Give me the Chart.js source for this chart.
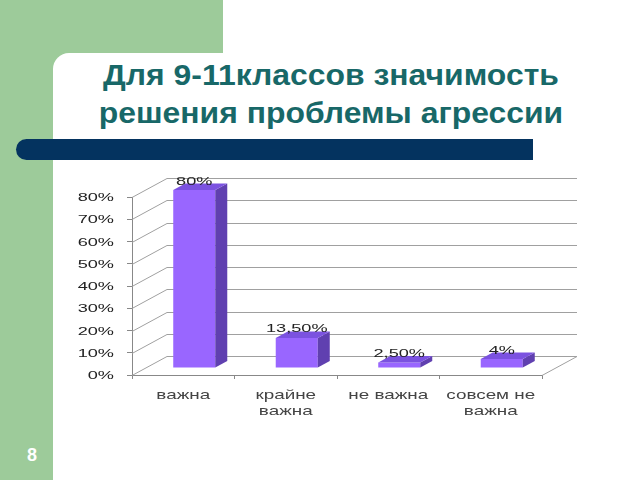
<!DOCTYPE html>
<html><head><meta charset="utf-8">
<script src="https://cdn.jsdelivr.net/npm/chart.js@4/dist/chart.umd.min.js"></script>
<style>
html,body{margin:0;padding:0;width:640px;height:480px;overflow:hidden;background:#fff;}
#g{position:absolute;left:0;top:0;width:223px;height:480px;background:#9dcb9a;}
#w{position:absolute;left:53px;top:53px;width:587px;height:427px;background:#fff;border-top-left-radius:16px;}
#nav{position:absolute;left:16px;top:139px;width:517px;height:21px;background:#04335f;border-radius:11px 0 0 11px;}
#title{position:absolute;left:31px;top:56px;width:600px;text-align:center;font:bold 29px/38px "Liberation Sans",Arial,sans-serif;color:#186868;transform:scaleX(1.1);transform-origin:300px 0;}
#num{position:absolute;left:17px;top:444px;width:30px;text-align:center;font:bold 18px/22px "Liberation Sans",Arial,sans-serif;color:#fff;}
#box{position:absolute;left:0;top:0;width:640px;height:480px;}
</style></head><body>
<div id="g"></div><div id="w"></div><div id="nav"></div>
<div id="title">Для 9-11классов значимость<br>решения проблемы агрессии</div>
<div id="num">8</div>
<div id="box"><canvas id="c" width="640" height="480"></canvas></div>
<script>
const categories = [['важна'], ['крайне', 'важна'], ['не важна'], ['совсем не', 'важна']];
const values = [80, 13.5, 2.5, 4];
const yMin = 0, yMax = 80, yStep = 10;
const fmtPct = v => (Number.isInteger(v) ? String(v) : v.toFixed(2).replace('.', ',')) + '%';

const FRONT = '#9966ff', SIDE = '#6040b0', TOP = '#7b52e0';
const DX = 35, DY = -19;      // wall depth
const BX = 11, BY = -7;       // bar plane shift
const PX = 12, PY = -6.5;     // bar depth
const FONT = '"Liberation Sans", Arial, sans-serif';

function sText(ctx, txt, x, y, sx, align) {
  ctx.save(); ctx.translate(x, y); ctx.scale(sx, 1);
  ctx.textAlign = align; ctx.fillText(txt, 0, 0); ctx.restore();
}

const threeD = {
  id: 'threeD',
  beforeDatasetsDraw(chart) {
    const { ctx, chartArea: a, scales: { y } } = chart;
    ctx.save();
    ctx.strokeStyle = '#a0a0a0'; ctx.lineWidth = 1;
    ctx.beginPath();
    y.ticks.forEach(t => {
      const py = Math.round(y.getPixelForValue(t.value)) + 0.5;
      ctx.moveTo(a.left, py); ctx.lineTo(a.left + DX, py + DY); ctx.lineTo(a.right + DX, py + DY);
    });
    const pb = Math.round(a.bottom) + 0.5;
    ctx.moveTo(a.right, pb); ctx.lineTo(a.right + DX, pb + DY);
    ctx.stroke();
    ctx.restore();
    ctx.save(); ctx.translate(BX, BY);
  },
  afterDatasetsDraw(chart) {
    const ctx = chart.ctx;
    chart.getDatasetMeta(0).data.forEach(b => {
      const { x, y, base, width } = b.getProps(['x', 'y', 'base', 'width'], true);
      const l = x - width / 2, r = x + width / 2;
      ctx.fillStyle = SIDE; ctx.beginPath();
      ctx.moveTo(r, y); ctx.lineTo(r + PX, y + PY); ctx.lineTo(r + PX, base + PY); ctx.lineTo(r, base);
      ctx.closePath(); ctx.fill();
      ctx.fillStyle = TOP; ctx.beginPath();
      ctx.moveTo(l, y); ctx.lineTo(l + PX, y + PY); ctx.lineTo(r + PX, y + PY); ctx.lineTo(r, y);
      ctx.closePath(); ctx.fill();
    });
    ctx.restore();
  },
  afterDraw(chart) {
    const { ctx, chartArea: a, scales: { x, y } } = chart;
    ctx.save();
    ctx.fillStyle = '#222';
    ctx.font = '11px ' + FONT;
    ctx.textBaseline = 'middle';
    y.ticks.forEach(t => {
      sText(ctx, fmtPct(t.value), 114, y.getPixelForValue(t.value) + 1, 1.65, 'right');
    });
    ctx.textBaseline = 'alphabetic';
    const ds = chart.data.datasets[0].data;
    chart.getDatasetMeta(0).data.forEach((b, i) => {
      sText(ctx, fmtPct(ds[i]), b.x + BX, b.y + BY + PY + 1, 1.65, 'center');
    });
    ctx.fillStyle = '#444';
    ctx.font = '13px ' + FONT;
    ctx.textBaseline = 'middle';
    chart.data.labels.forEach((lab, i) => {
      const cx = x.getPixelForValue(i);
      lab.forEach((line, k) => sText(ctx, line, cx, a.bottom + 20 + k * 16, 1.45, 'center'));
    });
    ctx.restore();
  }
};

new Chart(document.getElementById('c'), {
  type: 'bar',
  data: {
    labels: categories,
    datasets: [{ data: values, backgroundColor: FRONT, borderWidth: 0,
      categoryPercentage: 1, barPercentage: 0.41, clip: false }]
  },
  options: {
    responsive: false, animation: false,
    layout: { padding: { left: 127, right: 98, top: 197, bottom: 101 } },
    plugins: { legend: { display: false }, tooltip: { enabled: false } },
    scales: {
      x: { offset: true,
        grid: { display: true, offset: true, drawOnChartArea: false, drawTicks: true, tickLength: 4, color: '#888' },
        border: { display: true, color: '#888' }, ticks: { display: false } },
      y: { min: yMin, max: yMax,
        ticks: { stepSize: yStep, display: false },
        grid: { drawOnChartArea: false, drawTicks: true, tickLength: 5, color: '#888' },
        border: { display: true, color: '#888' } }
    }
  },
  plugins: [threeD]
});
</script>
</body></html>
